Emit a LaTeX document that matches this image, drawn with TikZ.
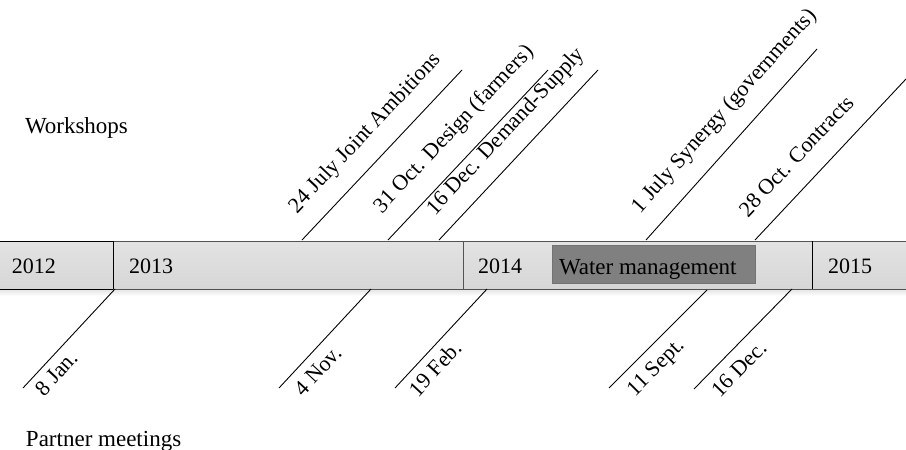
\documentclass[tikz,border=0pt]{standalone}
\usepackage{fontspec}
\setmainfont{Liberation Serif}
\usetikzlibrary{shadows}
\begin{document}
\begin{tikzpicture}[x=1pt,y=-1pt,
  every node/.style={font=\fontsize{22}{26}\selectfont, inner sep=0pt, outer sep=0pt},
  bigtext/.style={font=\fontsize{23}{27}\selectfont},
  yearbox/.style={draw=gray!65!black, line width=0.9pt, anchor=north west,
    minimum height=48pt, top color=gray!22, middle color=gray!8, bottom color=gray!32},
  wmbox/.style={fill=gray, draw=gray!90!black, line width=0.5pt, anchor=north west,
    minimum width=203pt, minimum height=38pt,
    drop shadow={shadow xshift=1.2pt, shadow yshift=-1.2pt, opacity=0.35, fill=black}},
  tick/.style={line width=0.9pt, black},
  datelabel/.style={anchor=base west}]
\useasboundingbox (0,0) rectangle (906,450);

% soft shadow under the year bar
\fill[top color=gray!22, bottom color=white] (0,289) rectangle (906,296);

% year bar
\node[yearbox, draw=black, minimum width=116pt] (y2012) at (-3,241) {};
\node[yearbox, minimum width=350pt] (y2013) at (113,241) {};
\node[yearbox, minimum width=349pt] (y2014) at (463,241) {};
\node[yearbox, minimum width=100pt] (y2015) at (812,241) {};
\draw[line width=0.9pt] (y2013.north west) -- (y2013.south west);
\draw[line width=0.9pt] (y2015.north west) -- (y2015.south west);

\node[anchor=base west] (t2012) at (12,273) {2012};
\node[anchor=base west] (t2013) at (129,273) {2013};
\node[anchor=base west] (t2014) at (478,273) {2014};
\node[anchor=base west] (t2015) at (828,273) {2015};

% highlighted period
\node[wmbox] (wm) at (552,245) {};
\node[bigtext, anchor=base west, text=black] (wmtext) at (559,274) {Water management};

% section titles
\node[bigtext, anchor=base west] (workshops) at (25,133) {Workshops};
\node[bigtext, anchor=base west] (partners) at (26,446) {Partner meetings};

% workshop ticks
\coordinate (w1a) at (302,240); \coordinate (w1b) at (462,70);
\coordinate (w2a) at (388,240); \coordinate (w2b) at (548,70);
\coordinate (w3a) at (439,240); \coordinate (w3b) at (598,70);
\coordinate (w4a) at (646,240); \coordinate (w4b) at (817,49);
\coordinate (w5a) at (755,240); \coordinate (w5b) at (906,79);
\draw[tick] (w1a) -- (w1b);
\draw[tick] (w2a) -- (w2b);
\draw[tick] (w3a) -- (w3b);
\draw[tick] (w4a) -- (w4b);
\draw[tick] (w5a) -- (w5b);
\node[datelabel, rotate=46.7] (w1) at (297,214) {24 July Joint Ambitions};
\node[datelabel, rotate=46.7] (w2) at (382,214) {31 Oct. Design (farmers)};
\node[datelabel, rotate=46.9] (w3) at (435,216) {16 Dec. Demand-Supply};
\node[datelabel, rotate=48.2] (w4) at (640,214) {1 July Synergy (governments)};
\node[datelabel, rotate=46.8] (w5) at (748,218) {28 Oct. Contracts};

% partner meeting ticks
\coordinate (p1a) at (23,388);  \coordinate (p1b) at (115,289);
\coordinate (p2a) at (279,388); \coordinate (p2b) at (371,289);
\coordinate (p3a) at (395,388); \coordinate (p3b) at (487,289);
\coordinate (p4a) at (609,388); \coordinate (p4b) at (707,290);
\coordinate (p5a) at (694,389); \coordinate (p5b) at (792,289);
\draw[tick] (p1a) -- (p1b);
\draw[tick] (p2a) -- (p2b);
\draw[tick] (p3a) -- (p3b);
\draw[tick] (p4a) -- (p4b);
\draw[tick] (p5a) -- (p5b);
\node[datelabel, rotate=47.1] (p1) at (44,397) {8 Jan.};
\node[datelabel, rotate=47.1] (p2) at (303,397) {4 Nov.};
\node[datelabel, rotate=47.1] (p3) at (418,398) {19 Feb.};
\node[datelabel, rotate=45.0] (p4) at (635,397) {11 Sept.};
\node[datelabel, rotate=45.6] (p5) at (720,398) {16 Dec.};
\end{tikzpicture}
\end{document}
